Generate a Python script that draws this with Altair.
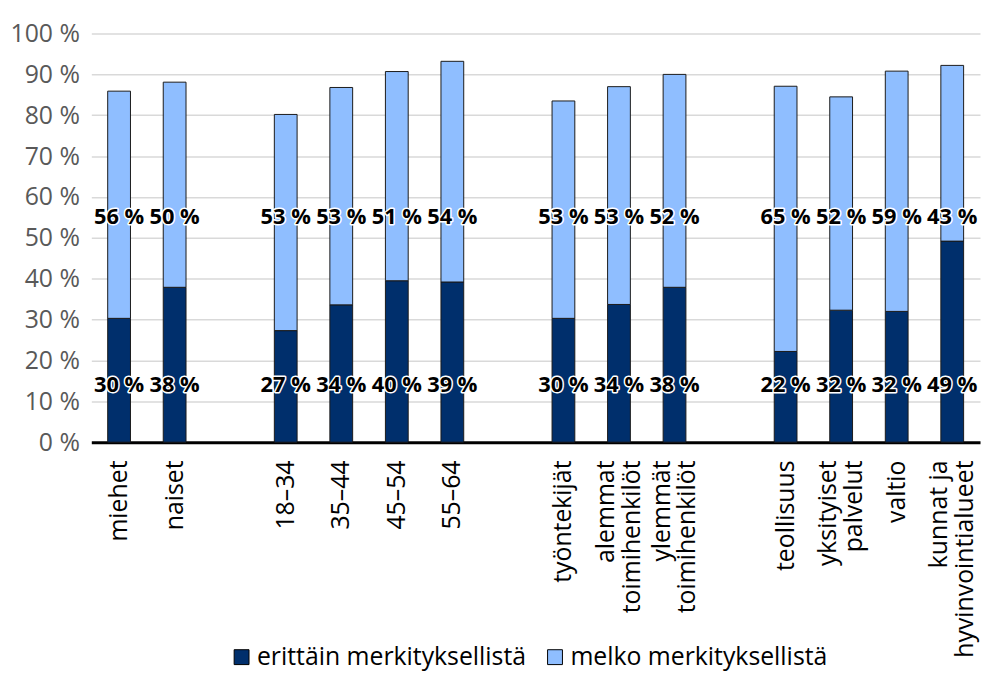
import altair as alt
import pandas as pd

categories = ["miehet", "naiset", "gap1", "18–34", "35–44", "45–54", "55–64", "gap2",
              "työntekijät", "alemmat|toimihenkilöt", "ylemmät|toimihenkilöt", "gap3",
              "teollisuus", "yksityiset|palvelut", "valtio", "kunnat ja|hyvinvointialueet"]
bar_cats = [c for c in categories if not c.startswith("gap")]

very = [30.3, 37.9, 27.3, 33.6, 39.5, 39.2, 30.3, 33.7, 37.9, 22.2, 32.3, 32.0, 49.2]
quite = [55.6, 50.2, 52.9, 53.2, 51.2, 54.0, 53.2, 53.3, 52.1, 64.9, 52.2, 58.8, 43.0]
series = ["erittäin merkityksellistä", "melko merkityksellistä"]
colors = ["#002F6C", "#8FBEFF"]

rows = []
for c, v, q in zip(bar_cats, very, quite):
    rows.append({"cat": c, "series": series[0], "value": v, "ord": 0,
                 "label": f"{round(v)} %", "lpos": 14})
    rows.append({"cat": c, "series": series[1], "value": q, "ord": 1,
                 "label": f"{round(q)} %", "lpos": 55})
df = pd.DataFrame(rows)

FONT = "Open Sans"

x = alt.X("cat:N", scale=alt.Scale(domain=categories, paddingInner=0.59, paddingOuter=0.295),
          axis=alt.Axis(title=None, labelAngle=-90, labelAlign="right", labelBaseline="middle",
                        labelExpr="indexof(datum.label, 'gap') == 0 ? '' : split(datum.label, '|')",
                        labelOffset={"condition": {"test": "indexof(datum.label, '|') >= 0",
                                                   "value": -13}, "value": 0},
                        labelFont=FONT, labelFontSize=25, labelColor="#000000",
                        labelPadding=18, ticks=False, domainColor="#000000", domainWidth=3,
                        grid=False, labelLineHeight=26, labelLimit=400))

bars = alt.Chart(df).mark_bar(stroke="#1a1a1a", strokeWidth=1).encode(
    x=x,
    y=alt.Y("value:Q", stack="zero", scale=alt.Scale(domain=[0, 100]),
            axis=alt.Axis(title=None, values=list(range(0, 101, 10)),
                          labelExpr="datum.value + ' %'", labelFont=FONT, labelFontSize=25,
                          labelColor="#595959", labelPadding=12, ticks=False, domain=False,
                          gridColor="#d9d9d9", gridWidth=1.5)),
    color=alt.Color("series:N", scale=alt.Scale(domain=series, range=colors),
                    legend=alt.Legend(title=None, orient="none", direction="horizontal",
                                      legendX=139, legendY=616, symbolType="square",
                                      symbolSize=225, symbolStrokeColor="#000000",
                                      symbolStrokeWidth=1, labelFont=FONT, labelFontSize=25,
                                      labelColor="#000000", columnPadding=16, labelOffset=3,
                                      labelLimit=400)),
    order=alt.Order("ord:Q"),
)

halo = alt.Chart(df).mark_text(font=FONT, fontSize=22, fontWeight="bold", stroke="white",
                               strokeWidth=3, strokeJoin="round", color="white").encode(
    x=alt.X("cat:N"), y=alt.Y("lpos:Q"), text="label:N")
txt = alt.Chart(df).mark_text(font=FONT, fontSize=22, fontWeight="bold", color="black").encode(
    x=alt.X("cat:N"), y=alt.Y("lpos:Q"), text="label:N")

chart = alt.layer(bars, halo, txt).properties(
    width=896, height=412,
    autosize=alt.AutoSizeParams(type="none"),
    padding={"left": 84, "top": 23, "right": 1, "bottom": 232},
).configure_view(stroke=None)

chart.save("out.html", embed_options={"renderer": "svg", "actions": False})
